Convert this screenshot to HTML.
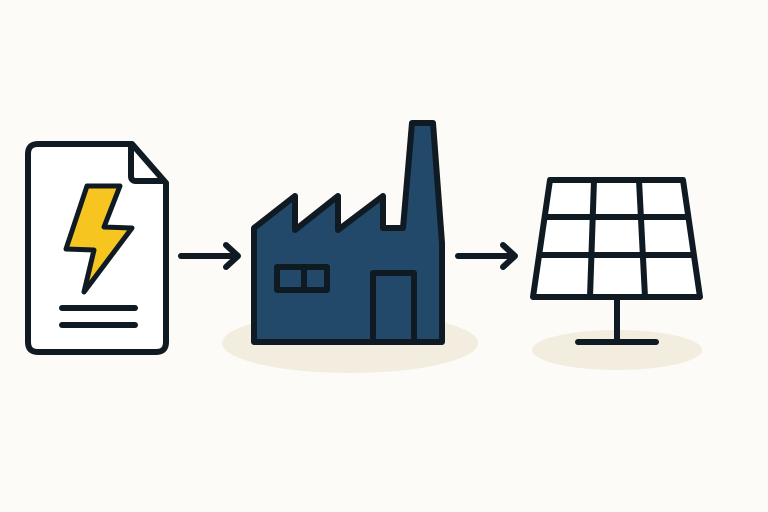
<!DOCTYPE html>
<html><head><style>html,body{margin:0;padding:0;background:#fcfbf7;}svg{display:block}</style></head>
<body>
<svg width="768" height="512" viewBox="0 0 768 512" xmlns="http://www.w3.org/2000/svg">
<rect width="768" height="512" fill="#fcfbf7"/>
<ellipse cx="350" cy="343" rx="128" ry="30" fill="#f2eddf"/>
<ellipse cx="617" cy="350" rx="85" ry="20" fill="#f2eddf"/>
<g fill="none" stroke="#0f1a22" stroke-width="6" stroke-linecap="round" stroke-linejoin="round">
  <path d="M38,144 L132,144 L166,183 L166,342 Q166,352 156,352 L38,352 Q28,352 28,342 L28,154 Q28,144 38,144 Z" fill="#fff"/>
  <path d="M131,146 L131,176 Q131,181 136,181 L164,181"/>
  <path d="M87,186 L120,186 L104,227 L132,228 L84,292 L94,250 L66,249 Z" fill="#f7c520" stroke-width="5"/>
  <line x1="62" y1="308" x2="135" y2="308"/>
  <line x1="62" y1="325" x2="135" y2="325"/>
  <line x1="181" y1="256" x2="236" y2="256"/>
  <path d="M226,245 L238,256 L226,267"/>
  <line x1="458" y1="256" x2="513" y2="256"/>
  <path d="M503,245 L515,256 L503,267"/>
  <path d="M254,228 L295,196 L295,230 L338,196 L338,230 L383,196 L383,228 L403,228 L412,123 L433,123 L442,243 L442,342 L254,342 Z" fill="#22486a"/>
  <rect x="277" y="267" width="50" height="23"/>
  <line x1="304" y1="267" x2="304" y2="290"/>
  <path d="M373,342 L373,273 L414,273 L414,342"/>
  <path d="M550,180 L683,180 L700,297 L533,297 Z" fill="#fff"/>
  <line x1="545" y1="217" x2="688" y2="217" stroke-linecap="butt"/>
  <line x1="539" y1="255" x2="694" y2="255" stroke-linecap="butt"/>
  <line x1="594" y1="180" x2="590" y2="297"/>
  <line x1="639" y1="180" x2="645" y2="297"/>
  <line x1="617" y1="297" x2="617" y2="340"/>
  <line x1="578" y1="342" x2="656" y2="342"/>
</g>
</svg>
</body></html>
